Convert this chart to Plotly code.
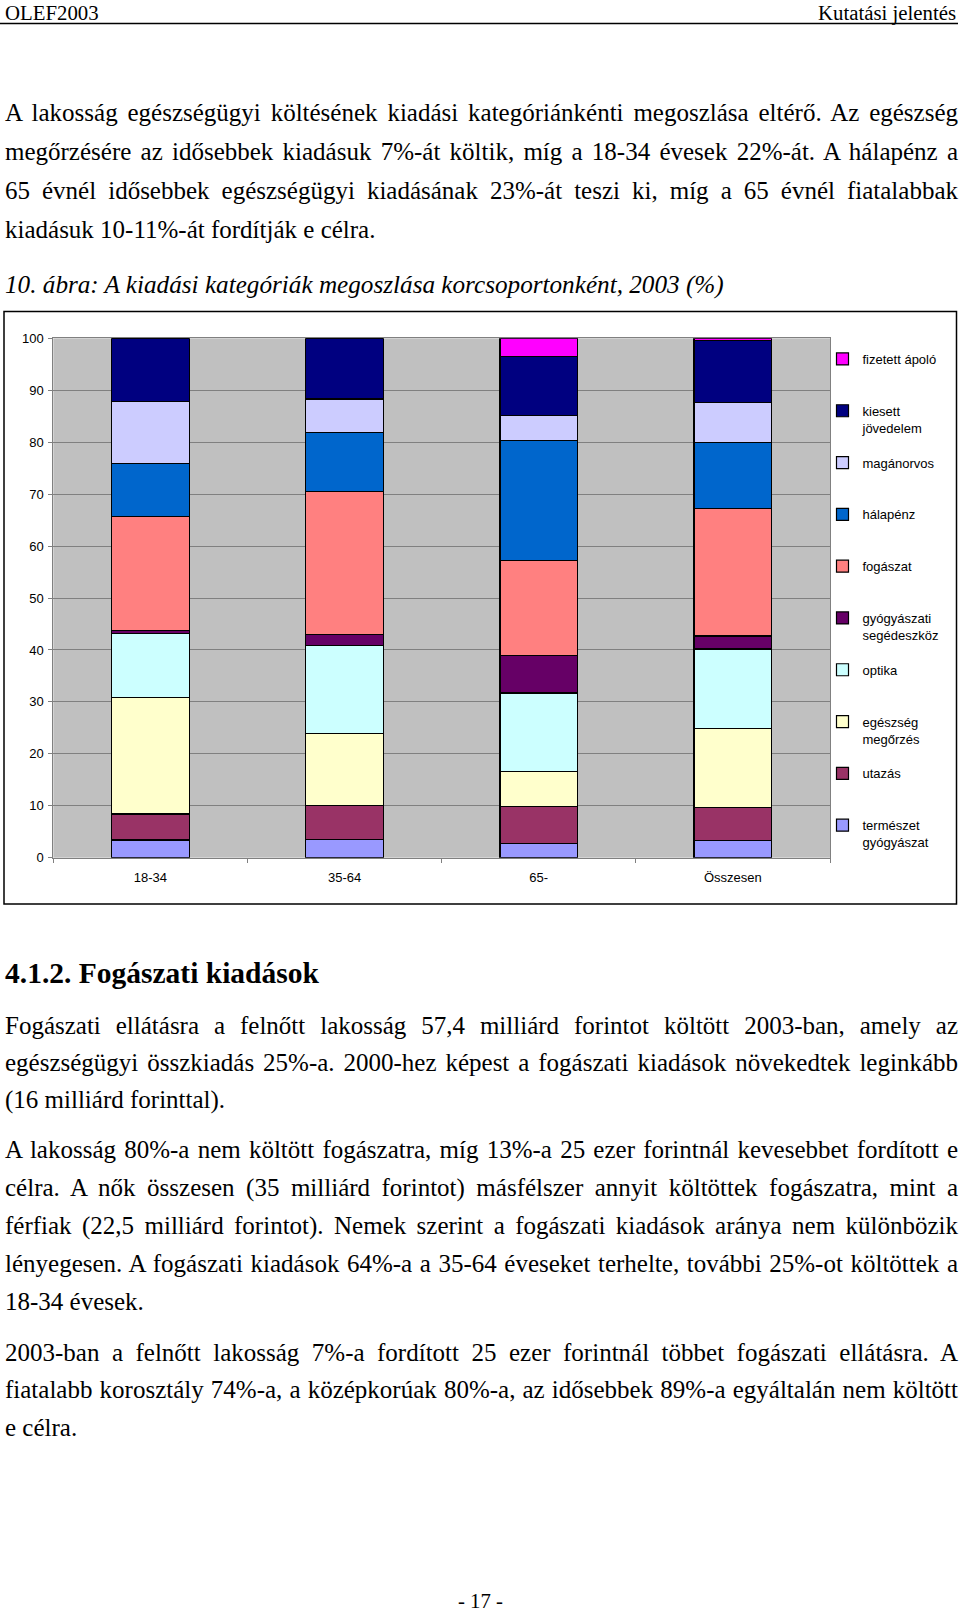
import json
import plotly.graph_objects as go

# --- chart data (percent of health spending, by age group) ---
categories = ["18-34", "35-64", "65-", "Összesen"]

termeszet_gyogyaszat = [3.4, 3.5, 2.8, 3.3]
utazas = [5.0, 6.5, 7.1, 6.3]
egeszseg_megorzes = [22.5, 13.9, 6.7, 15.2]
optika = [12.3, 16.9, 15.1, 15.4]
gyogyaszati_segedeszkoz = [0.6, 2.1, 7.3, 2.5]
fogaszat = [21.9, 27.6, 18.2, 24.5]
halapenz = [10.2, 11.3, 23.1, 12.7]
maganorvos = [11.9, 6.5, 4.9, 7.8]
kiesett_jovedelem = [12.2, 11.7, 11.3, 11.8]
fizetett_apolo = [0.0, 0.0, 3.5, 0.5]

series_names = ["természet gyógyászat", "utazás", "egészség megőrzés", "optika",
                "gyógyászati segédeszköz", "fogászat", "hálapénz", "magánorvos",
                "kiesett jövedelem", "fizetett ápoló"]
legend_labels = ["természet<br>gyógyászat", "utazás<br>\u00a0", "egészség<br>megőrzés",
                 "optika<br>\u00a0", "gyógyászati<br>segédeszköz", "fogászat<br>\u00a0",
                 "hálapénz<br>\u00a0", "magánorvos<br>\u00a0", "kiesett<br>jövedelem",
                 "fizetett ápoló<br>\u00a0"]
series_values = [termeszet_gyogyaszat, utazas, egeszseg_megorzes, optika,
                 gyogyaszati_segedeszkoz, fogaszat, halapenz, maganorvos,
                 kiesett_jovedelem, fizetett_apolo]
series_colors = ["#9999FF", "#993366", "#FFFFCC", "#CCFFFF", "#660066",
                 "#FF8080", "#0066CC", "#CCCCFF", "#000080", "#FF00FF"]

y_ticks = [0, 10, 20, 30, 40, 50, 60, 70, 80, 90, 100]

# --- page text ---
header_left = "OLEF2003"
header_right = "Kutatási jelentés"
para1 = [
    "A lakosság egészségügyi költésének kiadási kategóriánkénti megoszlása eltérő. Az egészség",
    "megőrzésére az idősebbek kiadásuk 7%-át költik, míg a 18-34 évesek 22%-át. A hálapénz a",
    "65 évnél idősebbek egészségügyi kiadásának 23%-át teszi ki, míg a 65 évnél fiatalabbak",
    "kiadásuk 10-11%-át fordítják e célra.",
]
caption = "10. ábra: A kiadási kategóriák megoszlása korcsoportonként, 2003 (%)"
heading = "4.1.2. Fogászati kiadások"
para2 = [
    "Fogászati ellátásra a felnőtt lakosság 57,4 milliárd forintot költött 2003-ban, amely az",
    "egészségügyi összkiadás 25%-a. 2000-hez képest a fogászati kiadások növekedtek leginkább",
    "(16 milliárd forinttal).",
]
para3 = [
    "A lakosság 80%-a nem költött fogászatra, míg 13%-a 25 ezer forintnál kevesebbet fordított e",
    "célra. A nők összesen (35 milliárd forintot) másfélszer annyit költöttek fogászatra, mint a",
    "férfiak (22,5 milliárd forintot). Nemek szerint a fogászati kiadások aránya nem különbözik",
    "lényegesen. A fogászati kiadások 64%-a a 35-64 éveseket terhelte, további 25%-ot költöttek a",
    "18-34 évesek.",
]
para4 = [
    "2003-ban a felnőtt lakosság 7%-a fordított 25 ezer forintnál többet fogászati ellátásra. A",
    "fiatalabb korosztály 74%-a, a középkorúak 80%-a, az idősebbek 89%-a egyáltalán nem költött",
    "e célra.",
]
page_number = "- 17 -"

W, H = 960, 1613
SERIF = "Liberation Serif, Times New Roman, serif"
SANS = "Liberation Sans, Arial, sans-serif"


def px(x):
    return x / W


def py(y):
    return 1 - y / H


fig = go.Figure()

n_series = len(series_names)
for i, (name, label, vals, col) in enumerate(zip(series_names, legend_labels, series_values, series_colors)):
    fig.add_trace(go.Bar(x=categories, y=vals, name=label, legendgroup=name,
                         legendrank=n_series - i,
                         marker=dict(color=col, line=dict(color="black", width=1.2)),
                         hovertemplate=name + ": %{y}<extra></extra>"))

# text lines as annotations
annotations = []
justified = []


def add_line(text, y, size=25, style="", xanchor="left", x=4, justify=False, bold=False,
             yanchor="middle"):
    if justify:
        justified.append(len(annotations))
    if bold:
        text = "<b>" + text + "</b>"
    if style == "italic":
        text = "<i>" + text + "</i>"
    annotations.append(dict(text=text, x=px(x), y=py(y), xref="paper", yref="paper",
                            xanchor=xanchor, yanchor=yanchor,
                            align=xanchor if xanchor != "center" else "center",
                            showarrow=False, borderpad=0,
                            font=dict(family=SERIF, size=size, color="black")))


add_line(header_left, 0, size=20.8, yanchor="top")
add_line(header_right, 0, size=20.8, xanchor="right", x=957, yanchor="top")

for lines, ys in [(para1, [113, 152, 191, 229.5]),
                  (para2, [1025, 1062, 1100]),
                  (para3, [1149.5, 1187.5, 1225.5, 1263.5, 1301.5]),
                  (para4, [1352, 1389, 1427])]:
    for i, (line, y) in enumerate(zip(lines, ys)):
        add_line(line, y, justify=(i < len(lines) - 1))

add_line(caption, 285, size=25.2, style="italic")
add_line(heading, 973, size=29.5, bold=True)
add_line(page_number, 1613, size=20.8, xanchor="center", x=480, yanchor="bottom")

fig.update_layout(
    width=W, height=H,
    margin=dict(l=0, r=0, t=0, b=0, autoexpand=False),
    paper_bgcolor="white",
    plot_bgcolor="#C0C0C0",
    barmode="stack",
    bargap=0.6,
    annotations=annotations,
    shapes=[
        dict(type="line", xref="paper", yref="paper", x0=0, x1=px(958), y0=py(23.5), y1=py(23.5),
             line=dict(color="black", width=1.5)),
        dict(type="rect", xref="paper", yref="paper", x0=px(4), x1=px(956.5), y0=py(311.5), y1=py(904),
             line=dict(color="black", width=1.5)),
    ],
    legend=dict(font=dict(family=SANS, size=13, color="black"),
                x=px(822.5), y=py(344), xanchor="left", yanchor="top",
                bgcolor="rgba(0,0,0,0)", traceorder="grouped",
                tracegroupgap=15, valign="top", itemwidth=30),
    xaxis=dict(domain=[px(53.3), px(830)], type="category",
               tickson="boundaries", ticks="outside", ticklen=4, tickcolor="#808080",
               showline=True, linecolor="#808080", mirror=True, showgrid=False,
               ticklabelstandoff=8,
               tickfont=dict(family=SANS, size=13, color="black")),
    yaxis=dict(domain=[py(857.7), py(338.3)], range=[0, 100], tickvals=y_ticks,
               ticks="outside", ticklen=4, tickcolor="#808080",
               showline=True, linecolor="#808080", mirror=True,
               showgrid=True, gridcolor="#808080", gridwidth=1, zeroline=False,
               ticklabelstandoff=2,
               tickfont=dict(family=SANS, size=13, color="black")),
)

# page has no body margin; stretch word spacing so justified lines fill the text width
justify_js = """
document.body.style.margin = '0';
document.body.style.overflow = 'hidden';
var gd = document.getElementById('{plot_id}');
var just = %s;
gd.querySelectorAll('g.annotation').forEach(function(g) {
  var i = +g.getAttribute('data-index');
  if (just.indexOf(i) < 0) return;
  var t = g.querySelector('text.annotation-text');
  var n = (t.textContent.match(/ /g) || []).length;
  var w = t.getComputedTextLength();
  if (n > 0) t.style.wordSpacing = ((953 - w) / n) + 'px';
});
""" % json.dumps(justified)

fig.write_html("out.html", post_script=justify_js, config={"displayModeBar": False})
